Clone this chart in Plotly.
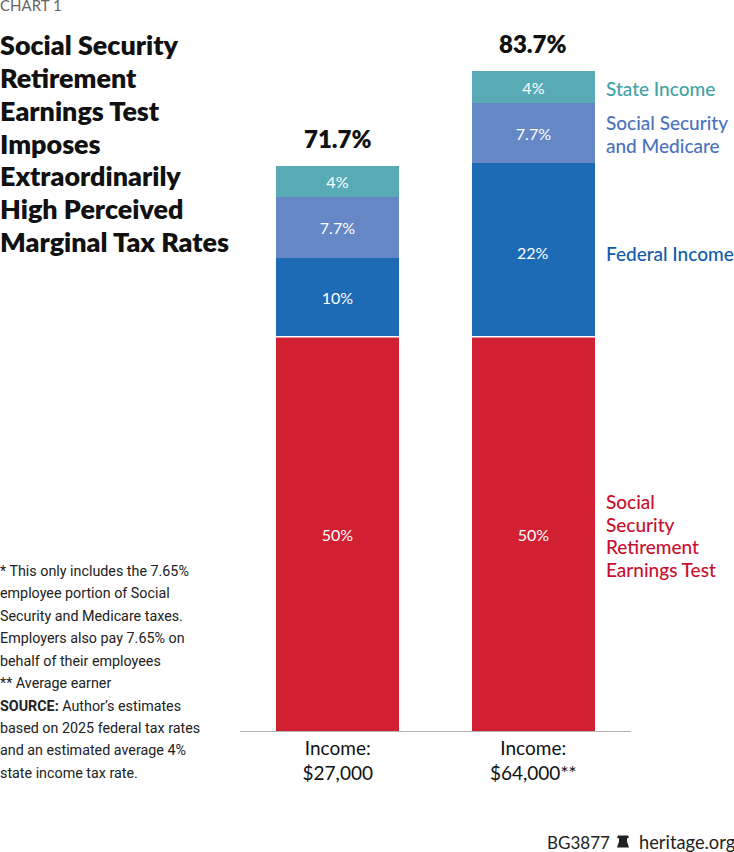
import plotly.graph_objects as go

# Chart values
incomes = ['Income:<br>$27,000', 'Income:<br>$64,000**']
earnings_test = [50, 50]
federal_income = [10, 22]
ss_medicare = [7.7, 7.7]
state_income = [4, 4]
totals = [71.7, 83.7]
earnings_labels = ['50%', '50%']
federal_labels = ['10%', '22%']
ss_labels = ['7.7%', '7.7%']
state_labels = ['4%', '4%']
total_labels = ['71.7%', '83.7%']

title_lines = ['Social Security', 'Retirement', 'Earnings Test', 'Imposes',
               'Extraordinarily', 'High Perceived', 'Marginal Tax Rates']
note_lines = ['* This only includes the 7.65%', 'employee portion of Social',
              'Security and Medicare taxes.', 'Employers also pay 7.65% on',
              'behalf of their employees', '** Average earner',
              '<b>SOURCE:</b> Author\u2019s estimates', 'based on 2025 federal tax rates',
              'and an estimated average 4%', 'state income tax rate.']

RED = '#d02032'
BLUE = '#1d6bb5'
PERI = '#6687c5'
TEAL = '#58abb5'
HEAD_FONT = 'Lato'
NOTE_FONT = 'Roboto'

# plot area in page pixels
LEFT, RIGHT, TOP, BASE = 240, 631, 0, 731.5

def px(x):
    return (x - LEFT) / (RIGHT - LEFT)

def py(y):
    return (BASE - y) / (BASE - TOP)

def add_bar(values, labels, color):
    fig.add_trace(go.Bar(
        x=incomes, y=values, text=labels, textposition='inside',
        insidetextanchor='middle', textangle=0, constraintext='none',
        textfont=dict(family=HEAD_FONT, size=16, color='white'),
        marker=dict(color=color, line=dict(width=0)),
        width=0.629, hoverinfo='skip', showlegend=False,
    ))

def add_text(x, y, text, size, color='#111111', family=HEAD_FONT, weight='normal'):
    fig.add_annotation(
        xref='paper', yref='paper', x=px(x), y=py(y), text=text,
        showarrow=False, xanchor='left', yanchor='middle', align='left',
        font=dict(family=family, size=size, color=color, weight=weight),
        borderpad=0, borderwidth=0,
    )

fig = go.Figure()
add_bar(earnings_test, earnings_labels, RED)
# the 22% label sits a little under the middle of its segment, added below
add_bar(federal_income, [federal_labels[0], ''], BLUE)
add_bar(ss_medicare, ss_labels, PERI)
add_bar(state_income, state_labels, TEAL)

fig.add_annotation(x=incomes[1], y=earnings_test[1] + federal_income[1] / 2,
                   text=federal_labels[1], showarrow=False, yshift=-3,
                   font=dict(family=HEAD_FONT, size=16, color='white'))

# thin white gap above the red segments
fig.add_hline(y=earnings_test[0], line=dict(color='white', width=1.5))

# totals above the bars
for name, total, label in zip(incomes, totals, total_labels):
    fig.add_annotation(x=name, y=total, text=label, showarrow=False,
                       yanchor='bottom', yshift=11,
                       font=dict(family=HEAD_FONT, size=24, color='#111111', weight=800))

# title, notes and series names
add_text(0, 5, 'CHART 1', 15, '#666666')
for i, line in enumerate(title_lines):
    add_text(0, 45 + i * 32.7, line, 26.9, weight=800)
for i, line in enumerate(note_lines):
    add_text(0, 571 + i * 22.5, line, 14.3, '#222222', NOTE_FONT)

add_text(606, 89, 'State Income', 19, '#3fa3a8', weight=500)
add_text(606, 123, 'Social Security', 19, '#4a72bd', weight=500)
add_text(606, 145.5, 'and Medicare', 19, '#4a72bd', weight=500)
add_text(606, 254, 'Federal Income', 19, '#0f5cab', weight=500)
for i, line in enumerate(['Social', 'Security', 'Retirement', 'Earnings Test']):
    add_text(606, 502 + i * 22.5, line, 19, '#c8102e', weight=500)

add_text(547, 843, 'BG3877', 17, '#222222')
add_text(639, 843, 'heritage.org', 18.3, '#222222')

# small bell logo in the footer
bell = [('M', 617, 848), ('L', 629, 848), ('L', 627, 842), ('L', 627, 839),
        ('L', 629, 838), ('L', 628, 836), ('L', 618, 836), ('L', 617, 838),
        ('L', 619, 839), ('L', 619, 842)]
bell_path = ' '.join(f'{c} {px(x):.5f} {py(y):.5f}' for c, x, y in bell) + ' Z'
fig.add_shape(type='path', xref='paper', yref='paper', path=bell_path,
              fillcolor='#222222', line=dict(width=0))

fig.update_layout(
    barmode='stack', width=734, height=852, autosize=False,
    margin=dict(l=LEFT, r=734 - RIGHT, t=TOP, b=852 - BASE, pad=0),
    paper_bgcolor='white', plot_bgcolor='white', bargap=0,
    xaxis=dict(type='category', range=[-0.5, 1.5], showgrid=False, ticks='',
               showline=True, linecolor='#b5b5b5', linewidth=1,
               tickfont=dict(family=HEAD_FONT, size=19, color='#111111')),
    yaxis=dict(range=[0, 92.7], visible=False),
)

fig.write_html('out.html', config=dict(displayModeBar=False),
               post_script="document.body.style.margin='0';")
